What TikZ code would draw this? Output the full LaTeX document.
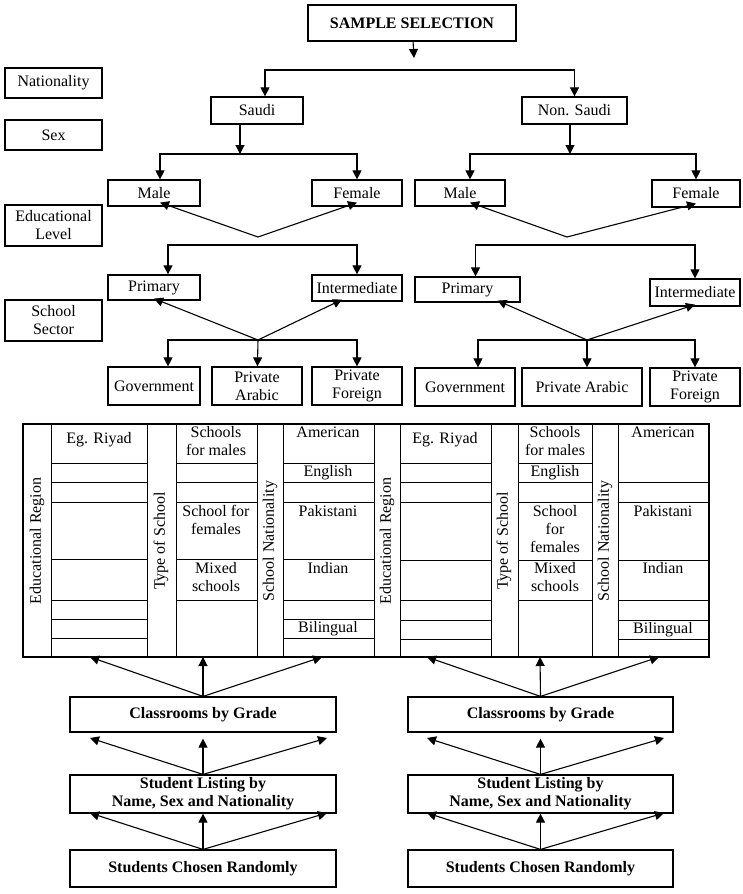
\documentclass[tikz,border=0pt]{standalone}
\usepackage{fontspec}
\setmainfont{Liberation Serif}
\usetikzlibrary{arrows.meta}
\tikzset{
    box/.style={draw, line width=1.2pt, inner sep=0pt, align=center, font=\fontsize{16}{18}\selectfont},
    arr/.style={line width=1.1pt, -{Triangle[length=9pt,width=9pt]}},
    vlab/.style={rotate=90, inner sep=0pt, font=\fontsize{16}{18}\selectfont},
    cell/.style={anchor=north, inner sep=0pt, align=center, font=\fontsize{16}{18}\selectfont}
}
\newcommand\boxat[6]{\node[box, minimum width={(#4-#2)*1pt}, minimum height={(#5-#3)*1pt}] (#1) at ({(#2+#4)/2},{(#3+#5)/2}) {#6};}
\begin{document}
\begin{tikzpicture}[x=1pt,y=-1pt]
    \useasboundingbox (0,0) rectangle (743,894);
    % levels
    \boxat{sample}{308}{5}{516}{41}{\textbf{SAMPLE SELECTION}}
    \boxat{nat}{5}{68}{102}{98}{Nationality}
    \boxat{sex}{5}{120}{102}{150}{Sex}
    \boxat{edu}{5}{205}{102}{246}{Educational\\Level}
    \boxat{sec}{5}{300}{102}{341}{School\\Sector}
    % tree
    \boxat{saudi}{211}{97}{303}{124}{Saudi}
    \boxat{nsaudi}{522}{97}{627}{124}{Non. Saudi}
    \boxat{maleA}{108}{180}{200}{206}{Male}
    \boxat{femA}{312}{180}{402}{206}{Female}
    \boxat{maleB}{415}{180}{505}{206}{Male}
    \boxat{femB}{652}{180}{740}{207}{Female}
    \boxat{priA}{108}{275}{200}{300}{Primary}
    \boxat{intA}{312}{275}{402}{301}{Intermediate}
    \boxat{priB}{415}{277}{520}{302}{Primary}
    \boxat{intB}{650}{279}{740}{306}{Intermediate}
    \boxat{govA}{108}{367}{200}{405}{Government}
    \boxat{parA}{212}{367}{302}{405}{Private\\Arabic}
    \boxat{pfoA}{312}{367}{402}{405}{Private\\Foreign}
    \boxat{govB}{415}{368}{515}{406}{Government}
    \boxat{parB}{522}{368}{642}{406}{Private Arabic}
    \boxat{pfoB}{650}{368}{740}{406}{Private\\Foreign}
    \coordinate (s1) at (414,58);
    \coordinate (s0) at (414,70);
    \draw[arr] (sample) -- (s1);
    \draw[arr] (s0) -| ([xshift=8pt]saudi.north);
    \draw[arr] (s0) -| (nsaudi);
    \coordinate (jA) at (240,154);
    \coordinate (jB) at (570,154);
    \draw[arr] (saudi.south -| jA) -- (jA);
    \draw[arr] (nsaudi.south -| jB) -- (jB);
    \draw[arr] (jA) -| ([xshift=6pt]maleA.north);
    \draw[arr] (jA) -| (femA);
    \draw[arr] (jB) -| ([xshift=10pt]maleB.north);
    \draw[arr] (jB) -| (femB);
    \coordinate (kA) at (258,237);
    \coordinate (kB) at (567,237);
    \draw[arr] (kA) -- ([xshift=6pt,yshift=4pt]maleA.south);
    \draw[arr] (kA) -- ([yshift=4pt]femA.south);
    \draw[arr] (kB) -- ([xshift=10pt,yshift=4pt]maleB.south);
    \draw[arr] (kB) -- ([yshift=4pt]femB.south);
    \coordinate (lA) at (258,245);
    \coordinate (lB) at (587,245);
    \draw[arr] (lA) -| ([xshift=14pt]priA.north);
    \draw[arr] (lA) -| (intA);
    \draw[arr] (lB) -| ([xshift=8pt]priB.north);
    \draw[arr] (lB) -| (intB);
    \coordinate (mA) at (258,340);
    \coordinate (mB) at (587,340);
    \draw[arr] (mA) -- ([yshift=2pt]priA.south);
    \draw[arr] (mA) -- ([xshift=-15pt,yshift=2pt]intA.south);
    \draw[arr] (mB) -- ([xshift=30pt,yshift=2pt]priB.south);
    \draw[arr] (mB) -- ([yshift=2pt]intB.south);
    \draw[arr] (mA) -| ([xshift=14pt]govA.north);
    \draw[arr] (mA) -- (parA);
    \draw[arr] (mA) -| (pfoA);
    \draw[arr] (mB) -| ([xshift=13pt]govB.north);
    \draw[arr] (mB) -| ([xshift=5pt]parB.north);
    \draw[arr] (mB) -| (pfoB);
    % table
    \draw[line width=1.2pt] (23,424) rectangle (709,657);
    \foreach \x in {51,147,176,257,283,374,400,491,518,592,618}
        \draw[line width=1pt] (\x,424) -- (\x,657);
    \foreach \y in {463,482,502,559,600,619,638} {
        \draw[line width=1pt] (51,\y) -- (147,\y);
        \draw[line width=1pt] (283,\y) -- (374,\y);
    }
    \foreach \y in {463,482,502,559,600}
        \draw[line width=1pt] (176,\y) -- (257,\y);
    \foreach \y in {463,482,502,560,600,620,639}
        \draw[line width=1pt] (400,\y) -- (491,\y);
    \foreach \y in {463,482,502,560,600}
        \draw[line width=1pt] (518,\y) -- (592,\y);
    \foreach \y in {482,502,560,600,620,639}
        \draw[line width=1pt] (618,\y) -- (709,\y);
    \node[vlab] (regA) at (37,541) {Educational Region};
    \node[vlab] (typA) at (161,541) {Type of School};
    \node[vlab] (snaA) at (270,541) {School Nationality};
    \node[vlab] (regB) at (387,541) {Educational Region};
    \node[vlab] (typB) at (504,541) {Type of School};
    \node[vlab] (snaB) at (605,541) {School Nationality};
    \node[cell] (riyA) at (99,432) {Eg. Riyad};
    \node[cell] (malA) at (216,426) {Schools\\for males};
    \node[cell] (fmlA) at (216,505) {School for\\females};
    \node[cell] (mixA) at (216,562) {Mixed\\schools};
    \node[cell] (amA) at (328,427) {American};
    \node[cell] (enA) at (328,465) {English};
    \node[cell] (pkA) at (328,505) {Pakistani};
    \node[cell] (inA) at (328,562) {Indian};
    \node[cell] (biA) at (328,621) {Bilingual};
    \node[cell] (riyB) at (445,432) {Eg. Riyad};
    \node[cell] (malB) at (555,426) {Schools\\for males};
    \node[cell] (enB) at (555,465) {English};
    \node[cell] (fmlB) at (555,505) {School\\for\\females};
    \node[cell] (mixB) at (555,562) {Mixed\\schools};
    \node[cell] (amB) at (663,427) {American};
    \node[cell] (pkB) at (663,505) {Pakistani};
    \node[cell] (inB) at (663,562) {Indian};
    \node[cell] (biB) at (663,622) {Bilingual};
    % bottom chain
    \boxat{clsA}{70}{697}{336}{732}{\textbf{Classrooms by Grade}}
    \boxat{lstA}{70}{775}{336}{813}{\textbf{Student Listing by}\\\textbf{Name, Sex and Nationality}}
    \boxat{rndA}{70}{850}{336}{887}{\textbf{Students Chosen Randomly}}
    \boxat{clsB}{408}{697}{673}{732}{\textbf{Classrooms by Grade}}
    \boxat{lstB}{408}{775}{673}{813}{\textbf{Student Listing by}\\\textbf{Name, Sex and Nationality}}
    \boxat{rndB}{408}{850}{673}{887}{\textbf{Students Chosen Randomly}}
    \foreach \c/\l in {A/0,B/337} {
        \coordinate (t1\c) at (90+\l,657);
        \coordinate (t2\c) at (203+\l,657);
        \coordinate (t3\c) at (322+\l,657);
        \coordinate (u1\c) at (90+\l,738);
        \coordinate (u3\c) at (327+\l,738);
        \coordinate (v1\c) at (90+\l,813);
        \coordinate (v3\c) at (327+\l,813);
        \draw[arr] (cls\c.north) -- (t1\c);
        \draw[arr] (cls\c.north) -- (t2\c);
        \draw[arr] (cls\c.north) -- (t3\c);
        \draw[arr] (lst\c.north) -- (u1\c);
        \draw[arr] (lst\c.north) -- ([yshift=-6pt]cls\c.south);
        \draw[arr] (lst\c.north) -- (u3\c);
        \draw[arr] (rnd\c.north) -- (v1\c);
        \draw[arr] (rnd\c.north) -- (lst\c.south);
        \draw[arr] (rnd\c.north) -- (v3\c);
    }
\end{tikzpicture}
\end{document}
